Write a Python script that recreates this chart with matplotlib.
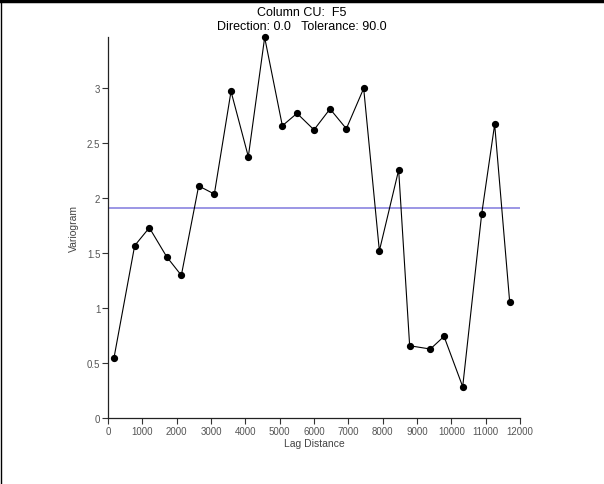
import numpy as np
import matplotlib.pyplot as plt
from matplotlib.lines import Line2D

plt.rcParams['font.family'] = ['Liberation Sans', 'DejaVu Sans']

lag = [175, 777, 1204, 1709, 2136, 2641, 3097, 3583, 4087, 4563,
       5078, 5505, 6000, 6467, 6942, 7447, 7904, 8466, 8786, 9389,
       9787, 10331, 10884, 11262, 11699]
gamma = [0.548, 1.567, 1.73, 1.466, 1.297, 2.11, 2.036, 2.97, 2.376, 3.46,
         2.657, 2.77, 2.62, 2.81, 2.63, 2.997, 1.52, 2.255, 0.657, 0.627,
         0.742, 0.285, 1.855, 2.67, 1.057]
sill = 1.906

x_ticks = [0, 1000, 2000, 3000, 4000, 5000, 6000, 7000, 8000, 9000, 10000, 11000, 12000]
y_ticks = [0, 0.5, 1, 1.5, 2, 2.5, 3]
y_labels = ['0', '0.5', '1', '1.5', '2', '2.5', '3']

fig = plt.figure(figsize=(6.04, 4.85), dpi=100)
ax = fig.add_axes([108 / 604, 66 / 485, 412 / 604, 381 / 485])

# Sill line
ax.plot([0, 12000], [sill, sill], color='#8a84e0', linewidth=1.2, zorder=1)

# Variogram curve
ax.plot(lag, gamma, color='black', linewidth=0.8, marker='o', markersize=4.2,
        markerfacecolor='black', clip_on=False, zorder=3)

ax.set_xlim(0, 12000)
ax.set_ylim(0, 3.464)
ax.set_xticks(x_ticks)
ax.set_xticklabels([str(t) for t in x_ticks])
ax.set_yticks(y_ticks)
ax.set_yticklabels(y_labels)
ax.tick_params(axis='both', labelsize=7, labelcolor='#555555', length=4,
               width=0.8, color='#333333', direction='out', pad=1.5)

for side in ['top', 'right']:
    ax.spines[side].set_visible(False)
for side in ['left', 'bottom']:
    ax.spines[side].set_linewidth(0.9)
    ax.spines[side].set_color('#222222')

ax.set_xlabel('Lag Distance', fontsize=7.5, color='#444444', labelpad=2)
ax.set_ylabel('Variogram', fontsize=7.5, color='#444444', labelpad=6)

fig.text(0.5, 1 - 13 / 485, 'Column CU:  F5', ha='center', va='center', fontsize=9)
fig.text(0.5, 1 - 27 / 485, 'Direction: 0.0   Tolerance: 90.0', ha='center', va='center', fontsize=9)

# Frame lines at the top and left edge of the image
fig.add_artist(Line2D([0, 1], [1 - 2 / 485, 1 - 2 / 485], transform=fig.transFigure,
                      color='black', linewidth=2.5))
fig.add_artist(Line2D([0.5 / 604, 0.5 / 604], [0, 1], transform=fig.transFigure,
                      color='black', linewidth=1.0))

plt.savefig('out.png', dpi=100)
plt.close()
